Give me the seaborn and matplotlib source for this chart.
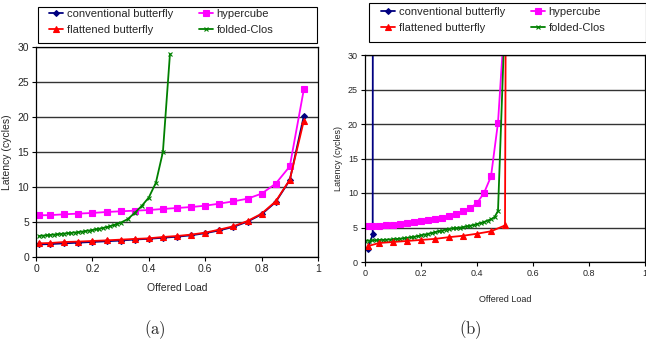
import matplotlib
matplotlib.use("Agg")
import matplotlib.pyplot as plt
import pandas as pd
import seaborn as sns
from matplotlib.patches import Rectangle

# ---- (a) uniform random traffic ----
load_a = [0.01, 0.05, 0.1, 0.15, 0.2, 0.25, 0.3, 0.35, 0.4, 0.45,
          0.5, 0.55, 0.6, 0.65, 0.7, 0.75, 0.8, 0.85, 0.9, 0.95]
conv_a = [1.8, 1.85, 1.95, 2.05, 2.15, 2.25, 2.35, 2.5, 2.6, 2.75,
          2.9, 3.1, 3.4, 3.8, 4.3, 5.05, 6.1, 7.85, 11.0, 20.2]
flat_a = [1.95, 2.0, 2.14, 2.2, 2.29, 2.38, 2.48, 2.58, 2.67, 2.86,
          3.0, 3.2, 3.48, 3.91, 4.39, 5.14, 6.19, 7.95, 11.05, 19.5]
hyper_a = [5.96, 5.98, 6.1, 6.2, 6.29, 6.43, 6.53, 6.62, 6.71, 6.86,
           7.0, 7.14, 7.33, 7.62, 7.95, 8.33, 9.05, 10.48, 12.95, 24.0]
clos_a_x = [0.01, 0.025, 0.0375, 0.05, 0.0625, 0.075, 0.0875, 0.1, 0.1125, 0.125,
            0.1375, 0.15, 0.1625, 0.175, 0.1875, 0.2, 0.2125, 0.225, 0.2375, 0.25,
            0.2625, 0.275, 0.2875, 0.3, 0.325, 0.35, 0.375, 0.4, 0.425, 0.45, 0.475]
clos_a = [3.0, 3.05, 3.1, 3.15, 3.2, 3.25, 3.3, 3.35, 3.4, 3.45,
          3.5, 3.55, 3.62, 3.7, 3.78, 3.86, 3.95, 4.05, 4.15, 4.27,
          4.4, 4.55, 4.72, 4.9, 5.4, 6.3, 7.3, 8.5, 10.6, 15.0, 29.0]

# ---- (b) worst-case traffic ----
conv_b_x = [0.01, 0.0275, 0.028]
conv_b = [1.9, 4.0, 40.0]
flat_b_x = [0.01, 0.05, 0.1, 0.15, 0.2, 0.25, 0.3, 0.35, 0.4, 0.45, 0.5, 0.503]
flat_b = [2.3, 2.75, 2.9, 3.05, 3.2, 3.35, 3.6, 3.8, 4.1, 4.45, 5.3, 40.0]
hyper_b_x = [0.005, 0.025, 0.05, 0.075, 0.1, 0.125, 0.15, 0.175, 0.2, 0.225,
             0.25, 0.275, 0.3, 0.325, 0.35, 0.375, 0.4, 0.425, 0.45, 0.475, 0.5]
hyper_b = [5.16, 5.2, 5.25, 5.3, 5.4, 5.5, 5.62, 5.75, 5.9, 6.05,
           6.2, 6.4, 6.7, 7.0, 7.33, 7.77, 8.55, 10.0, 12.4, 20.2, 36.0]
clos_b_x = [0.0, 0.0125, 0.025, 0.0375, 0.05, 0.0625, 0.075, 0.0875, 0.1, 0.1125,
            0.125, 0.1375, 0.15, 0.1625, 0.175, 0.1875, 0.2, 0.2125, 0.225, 0.2375,
            0.25, 0.2625, 0.275, 0.2875, 0.3, 0.3125, 0.325, 0.3375, 0.35, 0.3625,
            0.375, 0.3875, 0.4, 0.4125, 0.425, 0.4375, 0.45, 0.4625, 0.475, 0.5]
clos_b = [3.05, 3.1, 3.12, 3.15, 3.18, 3.2, 3.23, 3.26, 3.3, 3.34,
          3.38, 3.43, 3.5, 3.57, 3.65, 3.75, 3.86, 3.97, 4.08, 4.2,
          4.32, 4.44, 4.56, 4.68, 4.8, 4.86, 4.92, 4.98, 5.05, 5.15,
          5.25, 5.37, 5.5, 5.65, 5.8, 6.0, 6.2, 6.5, 7.4, 36.0]

NAMES = ["conventional butterfly", "flattened butterfly", "hypercube", "folded-Clos"]
STYLE = {
    "conventional butterfly": dict(color="#000080", marker="D", markersize=3.0),
    "flattened butterfly": dict(color="#ff0000", marker="^", markersize=4.5),
    "hypercube": dict(color="#ff00ff", marker="s", markersize=4.0),
    "folded-Clos": dict(color="#008000", marker="x", markersize=3.5),
}

sns.set_theme(style="white")
plt.rcParams["font.family"] = ["Liberation Sans", "DejaVu Sans"]
plt.rcParams["mathtext.fontset"] = "cm"

fig = plt.figure(figsize=(6.46, 3.49), dpi=100)
ax_a = fig.add_axes([36 / 646, 1 - 257 / 349, 282 / 646, 210 / 349])
ax_b = fig.add_axes([365 / 646, 1 - 262 / 349, 280 / 646, 207 / 349])

panels = [
    (ax_a, {"conventional butterfly": (load_a, conv_a),
            "flattened butterfly": (load_a, flat_a),
            "hypercube": (load_a, hyper_a),
            "folded-Clos": (clos_a_x, clos_a)}, 7.5),
    (ax_b, {"conventional butterfly": (conv_b_x, conv_b),
            "flattened butterfly": (flat_b_x, flat_b),
            "hypercube": (hyper_b_x, hyper_b),
            "folded-Clos": (clos_b_x, clos_b)}, 6.5),
]

draw_order = ["conventional butterfly", "hypercube", "folded-Clos", "flattened butterfly"]

for ax, series, fs in panels:
    for name in draw_order:
        xs, ys = series[name]
        df = pd.DataFrame({"Offered Load": xs, "Latency": ys})
        st = STYLE[name]
        sns.lineplot(data=df, x="Offered Load", y="Latency", ax=ax, color=st["color"],
                     marker=st["marker"], markersize=st["markersize"],
                     markeredgecolor=st["color"], markeredgewidth=0.8,
                     linewidth=1.3, errorbar=None, label=name, legend=False)
    ax.set_xlim(0, 1)
    ax.set_ylim(0, 30)
    ax.set_xticks([0, 0.2, 0.4, 0.6, 0.8, 1])
    ax.set_xticklabels(["0", "0.2", "0.4", "0.6", "0.8", "1"])
    ax.set_yticks([0, 5, 10, 15, 20, 25, 30])
    ax.yaxis.grid(True, color="#333333", linewidth=1.0)
    ax.xaxis.grid(False)
    for sp in ax.spines.values():
        sp.set_color("black")
        sp.set_linewidth(0.9)
    ax.tick_params(axis="both", which="both", direction="out", length=3, width=0.8,
                   color="black", labelsize=fs, left=True, bottom=True, pad=2)
    ax.set_xlabel("Offered Load", fontsize=fs)
    ax.set_ylabel("Latency (cycles)", fontsize=fs)

ax_a.yaxis.set_label_coords(-0.085, 0.5)
ax_a.xaxis.set_label_coords(0.5, -0.125)
ax_b.yaxis.set_label_coords(-0.08, 0.5)
ax_b.xaxis.set_label_coords(0.5, -0.16)

# legends: frameless content anchored at the first handle, box drawn separately
for ax, box, anchor in [(ax_a, (38, 7, 317, 43), (49, 9)), (ax_b, (369, 3, 646, 42), (381, 7))]:
    handles, labels = ax.get_legend_handles_labels()
    lookup = dict(zip(labels, handles))
    fig.legend([lookup[n] for n in NAMES], NAMES, ncol=2,
               bbox_to_anchor=(anchor[0] / 646, 1 - anchor[1] / 349),
               loc="upper left", fontsize=8, frameon=False,
               handlelength=1.3, handletextpad=0.3, borderaxespad=0,
               labelspacing=0.55, borderpad=0, columnspacing=2.3)
    x0, y0, x1, y1 = box
    fig.patches.append(Rectangle((x0 / 646, 1 - y1 / 349), (x1 - x0) / 646, (y1 - y0) / 349,
                                 transform=fig.transFigure, fill=False,
                                 edgecolor="black", linewidth=0.8))

fig.text(155 / 646, 1 - 330 / 349, r"$\mathrm{(a)}$", ha="center", va="center", fontsize=12)
fig.text(470 / 646, 1 - 330 / 349, r"$\mathrm{(b)}$", ha="center", va="center", fontsize=12)

fig.savefig("out.png", dpi=100)
